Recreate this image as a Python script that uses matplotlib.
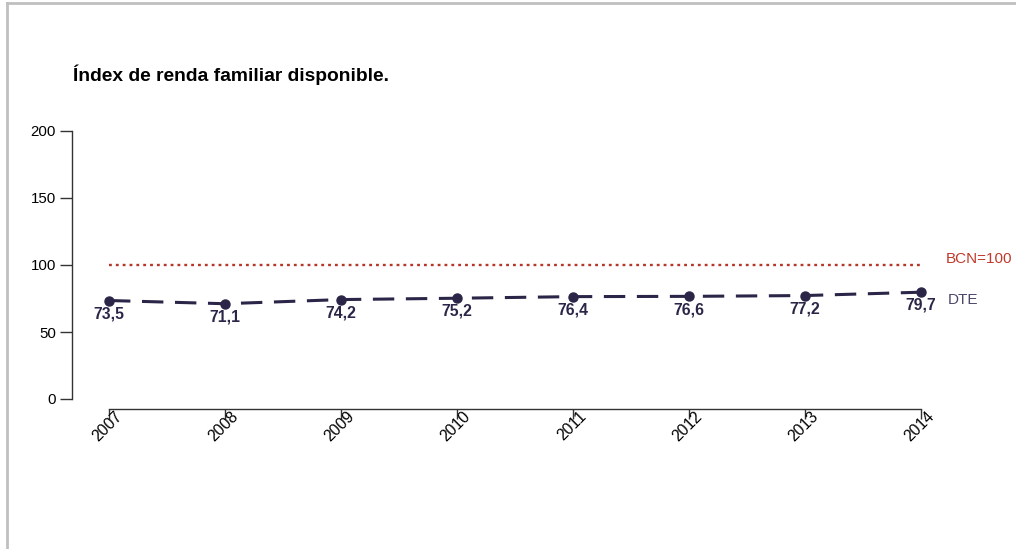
import matplotlib.pyplot as plt
from matplotlib.lines import Line2D
from matplotlib.transforms import ScaledTranslation

plt.rcParams["font.family"] = ["Liberation Sans", "DejaVu Sans"]

# data
years = [2007, 2008, 2009, 2010, 2011, 2012, 2013, 2014]
dte_values = [73.5, 71.1, 74.2, 75.2, 76.4, 76.6, 77.2, 79.7]
bcn_value = 100
yticks = [0, 50, 100, 150, 200]

navy = "#2b2548"
red = "#b5372a"

W, H = 1016, 549
fig = plt.figure(figsize=(W / 100, H / 100), dpi=100)

# axes placed in pixel terms: y axis at x=72, 2014 at x=921, y range 131..399
ax = fig.add_axes([72 / W, (H - 399) / H, (921 - 72) / W, (399 - 131) / H])
px_per_year = (921 - 109) / 7
ax.set_xlim(2007 - 37 / px_per_year, 2014)
ax.set_ylim(0, 200)

# reference line (BCN = 100)
ax.plot([years[0], years[-1]], [bcn_value, bcn_value], color=red, lw=1.7,
        dashes=(1.2, 1.7), clip_on=False)

# DTE series
ax.plot(years, dte_values, color=navy, lw=2.2, dashes=(7, 3.8),
        marker="o", markersize=6.5, clip_on=False)

for x, v in zip(years, dte_values):
    label = f"{v:.1f}".replace(".", ",")
    ax.annotate(label, (x, v), xytext=(0, -9.5), textcoords="offset points",
                ha="center", va="center", fontsize=11.3, fontweight="bold",
                color=navy, annotation_clip=False)

ax.annotate("BCN=100", (years[-1], bcn_value), xytext=(18, 4.5),
            textcoords="offset points", ha="left", va="center",
            fontsize=11, color="#c0392b", annotation_clip=False)
ax.annotate("DTE", (years[-1], dte_values[-1]), xytext=(19, -5.5),
            textcoords="offset points", ha="left", va="center",
            fontsize=11, color="#4a4768", annotation_clip=False)

# spines
for side in ["top", "right"]:
    ax.spines[side].set_visible(False)
ax.spines["left"].set_bounds(0, 200)
ax.spines["bottom"].set_bounds(years[0], years[-1])
ax.spines["bottom"].set_position(("outward", 7.5))
for side in ["left", "bottom"]:
    ax.spines[side].set_color("#333333")
    ax.spines[side].set_linewidth(1.0)

ax.set_yticks(yticks)
ax.set_xticks(years)
ax.tick_params(axis="y", length=8.5, width=1.0, color="#333333",
               labelsize=10.8, pad=3)
ax.tick_params(axis="x", length=7, width=1.0, color="#333333",
               labelsize=11.3, pad=-3.5)

offset = ScaledTranslation(8 / 72, 0, fig.dpi_scale_trans)
for lab in ax.get_xticklabels():
    lab.set_rotation(45)
    lab.set_ha("right")
    lab.set_va("center")
    lab.set_rotation_mode("anchor")
    lab.set_transform(lab.get_transform() + offset)

fig.text(73 / W, 1 - 75 / H, "Índex de renda familiar disponible.",
         fontsize=13.9, fontweight="bold", ha="left", va="center")

# page frame (top and left border)
fig.add_artist(Line2D([7 / W, 1], [1 - 2.5 / H, 1 - 2.5 / H],
                      color="#c0c0c0", lw=2, transform=fig.transFigure))
fig.add_artist(Line2D([7 / W, 7 / W], [0, 1 - 2.5 / H],
                      color="#c0c0c0", lw=2, transform=fig.transFigure))

fig.savefig("out.png", dpi=100)
